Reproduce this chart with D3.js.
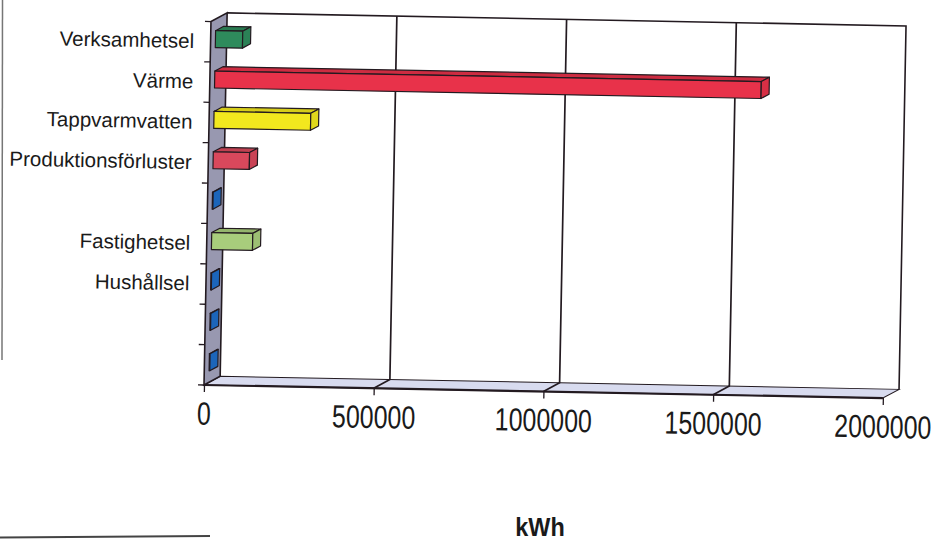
<!DOCTYPE html>
<html>
<head>
<meta charset="utf-8">
<script src="https://cdn.jsdelivr.net/npm/d3@7/dist/d3.min.js"></script>
<style>
  html, body { margin: 0; padding: 0; background: #fff; }
  svg { display: block; }
  text { font-family: "Liberation Sans", Arial, sans-serif; fill: #1a1a1a; }
</style>
</head>
<body>
<svg id="chart" width="936" height="540"></svg>
<script>
// ---- data ----
const categories = ["Verksamhetsel", "Värme", "Tappvarmvatten", "Produktionsförluster", "", "Fastighetsel", "Hushållsel", "", ""];
const values = [80000, 1610000, 285000, 107000, 2000, 121000, 2000, 2000, 2000];
const colors = ["#2e8b5c", "#e8324a", "#f2e81e", "#d9485c", "#1e6cc8", "#a8cd7c", "#1e6cc8", "#1e6cc8", "#1e6cc8"];
const xTicks = [0, 500000, 1000000, 1500000, 2000000];
const axisTitle = "kWh";

// ---- layout ----
const svg = d3.select("#chart");
const A = { x: 204, y: 385 };          // front-left floor corner
const D = { x: 16, y: -9 };            // depth offset (front -> back)
const topY = 21.5;
const x = d3.scaleLinear().domain([0, 2000000]).range([A.x, 883]);
const y = d3.scaleBand().domain(d3.range(categories.length)).range([topY, A.y]).padding(0);
const thick = y.bandwidth() * 0.42;
const z0 = 0.3, z1 = 0.8;              // bar depth fractions
const ink = "#231a20";

// scan frame remnants
svg.append("line").attr("x1", 2.5).attr("y1", 0).attr("x2", 2).attr("y2", 360)
  .attr("stroke", "#555").attr("stroke-width", 1.5).attr("opacity", 0.8);
svg.append("line").attr("x1", 0).attr("y1", 537.5).attr("x2", 210).attr("y2", 536)
  .attr("stroke", "#444").attr("stroke-width", 2);

const g = svg.append("g").attr("transform", `rotate(1.1, ${A.x}, ${A.y})`);
const pt = (px, py) => `${px},${py}`;

// floor
const xr0 = x.range()[0], xr1 = x.range()[1];
g.append("polygon")
  .attr("points", [pt(xr0, A.y), pt(xr1, A.y), pt(xr1 + D.x, A.y + D.y), pt(xr0 + D.x, A.y + D.y)].join(" "))
  .attr("fill", "#d8dbef").attr("stroke", ink).attr("stroke-width", 1);
g.append("line").attr("x1", xr0).attr("y1", A.y).attr("x2", xr1).attr("y2", A.y)
  .attr("stroke", ink).attr("stroke-width", 2.2);

// left wall
g.append("polygon")
  .attr("points", [pt(xr0, A.y), pt(xr0 + D.x, A.y + D.y), pt(xr0 + D.x, topY + D.y), pt(xr0, topY)].join(" "))
  .attr("fill", "#9898b0").attr("stroke", ink).attr("stroke-width", 1.6);

// back wall frame
g.append("polyline")
  .attr("points", [pt(xr0 + D.x, topY + D.y), pt(xr1 + D.x, topY + D.y), pt(xr1 + D.x, A.y + D.y)].join(" "))
  .attr("fill", "none").attr("stroke", ink).attr("stroke-width", 1.6);

// gridlines (back wall + floor)
xTicks.slice(1, -1).forEach(v => {
  const bx = x(v) + D.x;
  g.append("polyline")
    .attr("points", [pt(x(v), A.y), pt(bx, A.y + D.y), pt(bx, topY + D.y)].join(" "))
    .attr("fill", "none").attr("stroke", ink).attr("stroke-width", 1.7);
});

// category boundary ticks
d3.range(categories.length + 1).forEach(i => {
  const yy = topY + i * y.bandwidth();
  g.append("line").attr("x1", A.x - 6).attr("x2", A.x).attr("y1", yy).attr("y2", yy)
    .attr("stroke", ink).attr("stroke-width", 1.3);
});

// category labels
const yAxis = d3.axisLeft(y).tickSize(0).tickPadding(16.5).tickFormat(i => categories[i]);
const ya = g.append("g").attr("transform", `translate(${A.x},0)`).call(yAxis);
ya.select(".domain").remove();
ya.selectAll("text").attr("font-size", 20.5).attr("fill", "#1a1a1a")
  .attr("font-family", '"Liberation Sans", Arial, sans-serif');

// value axis
const xAxis = d3.axisBottom(x).tickValues(xTicks).tickSize(7).tickPadding(10).tickFormat(d3.format("d"));
const xa = g.append("g").attr("transform", `translate(0,${A.y})`).call(xAxis);
xa.select(".domain").remove();
xa.selectAll("line").attr("stroke", ink).attr("stroke-width", 1.3);
xa.selectAll("text").attr("font-size", 32).attr("fill", "#1a1a1a")
  .attr("font-family", '"Liberation Sans", Arial, sans-serif')
  .attr("transform", "scale(0.78,1)");

// bars
const shade = (c, k) => d3.color(c).darker(k).formatHex();
const bars = g.append("g");
categories.forEach((c, i) => {
  const v = values[i];
  const yb = y(i) + (y.bandwidth() - thick) / 2;
  const fx0 = x(0) + D.x * z0, fx1 = x(v) + D.x * z0;
  const fy0 = yb + D.y * z0, fy1 = yb + thick + D.y * z0;
  const dx = D.x * (z1 - z0), dy = D.y * (z1 - z0);
  const col = colors[i];
  const bg = bars.append("g").attr("stroke", ink).attr("stroke-width", 1.2).attr("stroke-linejoin", "round");
  bg.append("polygon")
    .attr("points", [pt(fx0, fy0), pt(fx1, fy0), pt(fx1 + dx, fy0 + dy), pt(fx0 + dx, fy0 + dy)].join(" "))
    .attr("fill", shade(col, 0.35));
  bg.append("rect").attr("x", fx0).attr("y", fy0).attr("width", Math.max(0, fx1 - fx0)).attr("height", thick)
    .attr("fill", col);
  bg.append("polygon")
    .attr("points", [pt(fx1, fy0), pt(fx1 + dx, fy0 + dy), pt(fx1 + dx, fy1 + dy), pt(fx1, fy1)].join(" "))
    .attr("fill", shade(col, 0.2));
});

// axis title
svg.append("text").attr("x", 540).attr("y", 536).attr("text-anchor", "middle")
  .attr("font-size", 26).attr("font-weight", "bold").attr("transform", "translate(540,0) scale(0.9,1) translate(-540,0)")
  .text(axisTitle);
</script>
</body>
</html>
